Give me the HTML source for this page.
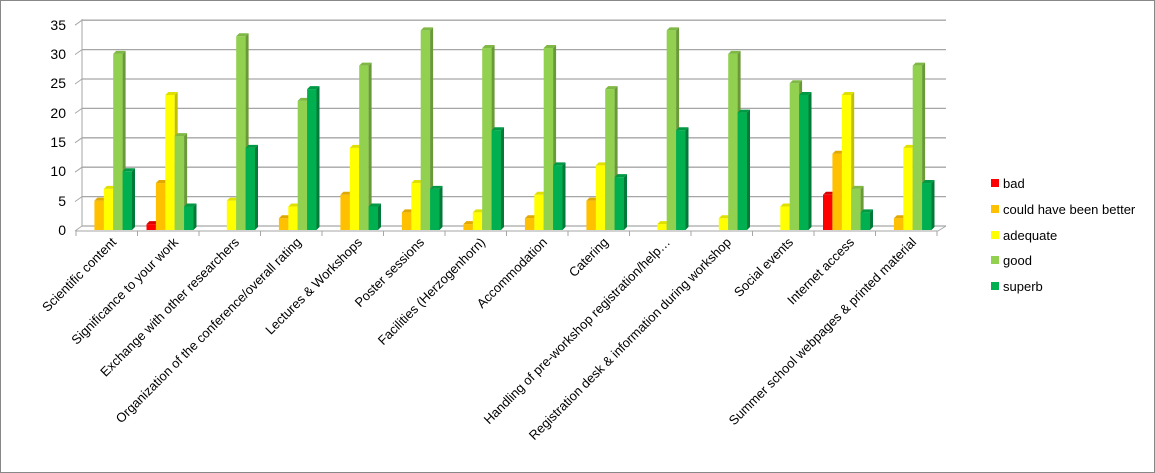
<!DOCTYPE html>
<html><head><meta charset="utf-8"><style>
html,body{margin:0;padding:0;background:#fff}
svg{display:block;font-family:"Liberation Sans",Arial,sans-serif}
</style></head><body>
<svg id="s" width="1155" height="473" viewBox="0 0 1155 473">
<rect x="0.5" y="0.5" width="1154" height="472" fill="#fff" stroke="#888"/>
<g id="grid"></g>
<g font-size="14" fill="#000" text-anchor="end">
<text x="66" y="235">0</text><text x="66" y="206">5</text><text x="66" y="176">10</text><text x="66" y="147">15</text><text x="66" y="118">20</text><text x="66" y="88">25</text><text x="66" y="59">30</text><text x="66" y="30">35</text>
</g>
<g id="bars"></g>
<g font-size="13" fill="#000" text-anchor="end">
<text transform="translate(117,243) rotate(-45)">Scientific content</text>
<text transform="translate(179,243) rotate(-45)">Significance to your work</text>
<text transform="translate(240,243) rotate(-45)">Exchange with other researchers</text>
<text transform="translate(302,243) rotate(-45)">Organization of the conference/overall rating</text>
<text transform="translate(363,243) rotate(-45)">Lectures &amp; Workshops</text>
<text transform="translate(425,243) rotate(-45)">Poster sessions</text>
<text transform="translate(486,243) rotate(-45)">Facilities (Herzogenhorn)</text>
<text transform="translate(548,243) rotate(-45)">Accommodation</text>
<text transform="translate(609,243) rotate(-45)">Catering</text>
<text transform="translate(671,243) rotate(-45)">Handling of pre-workshop registration/help…</text>
<text transform="translate(732,243) rotate(-45)">Registration desk &amp; information during workshop</text>
<text transform="translate(794,243) rotate(-45)">Social events</text>
<text transform="translate(855,243) rotate(-45)">Internet access</text>
<text transform="translate(917,243) rotate(-45)">Summer school webpages &amp; printed material</text>
</g>
<g font-size="13" fill="#000">
<rect x="991" y="179" width="8" height="8" fill="#ff0000"/><text x="1003" y="188">bad</text>
<rect x="991" y="205" width="8" height="8" fill="#ffc000"/><text x="1003" y="214">could have been better</text>
<rect x="991" y="231" width="8" height="8" fill="#ffff00"/><text x="1003" y="240">adequate</text>
<rect x="991" y="256" width="8" height="8" fill="#92d050"/><text x="1003" y="265">good</text>
<rect x="991" y="282" width="8" height="8" fill="#00b050"/><text x="1003" y="291">superb</text>
</g>
</svg>
<script>
var NS="http://www.w3.org/2000/svg";
function el(p,t,a){var e=document.createElementNS(NS,t);for(var k in a)e.setAttribute(k,a[k]);p.appendChild(e);return e;}
var g=document.getElementById('grid');
for(var i=0;i<=7;i++){var yb=226-i*29.4,yf=yb+4;
 el(g,'line',{x1:82,y1:yb,x2:946,y2:yb,stroke:'#a6a6a6','stroke-width':1.3});
 el(g,'line',{x1:75,y1:yf+1,x2:82,y2:yb,stroke:'#a6a6a6','stroke-width':1});}
el(g,'line',{x1:82,y1:19,x2:82,y2:226,stroke:'#a6a6a6'});
el(g,'line',{x1:76,y1:231,x2:938,y2:231,stroke:'#a6a6a6'});
el(g,'line',{x1:938,y1:231,x2:946,y2:226,stroke:'#a6a6a6'});
for(var i=0;i<=14;i++){var x=76+i*61.5;el(g,'line',{x1:x,y1:231,x2:x,y2:236,stroke:'#a6a6a6'});}
var data=[[0,5,7,30,10],[1,8,23,16,4],[0,0,5,33,14],[0,2,4,22,24],[0,6,14,28,4],[0,3,8,34,7],[0,1,3,31,17],[0,2,6,31,11],[0,5,11,24,9],[0,0,1,34,17],[0,0,2,30,20],[0,0,4,25,23],[6,13,23,7,3],[0,2,14,28,8]];
var fc=['#ff0000','#ffc000','#ffff00','#92d050','#00b050'],sc=['#b00000','#c09000','#c0c000','#6a9a38','#007a38'],tc=['#d80000','#e0a800','#e0e000','#7fb844','#009a44'];
var b=document.getElementById('bars');
data.forEach(function(d,c){d.forEach(function(v,k){if(!v)return;
 var x=76+c*61.5+9+k*9.4,w=9.4,h=v*5.87,y=230-h,dx=3,dy=3;
 el(b,'rect',{x:x,y:y,width:w,height:h,fill:fc[k]});
 el(b,'polygon',{points:(x+w)+','+y+' '+(x+w+dx)+','+(y-dy)+' '+(x+w+dx)+','+(230-dy)+' '+(x+w)+',230',fill:sc[k]});
 el(b,'polygon',{points:x+','+y+' '+(x+dx)+','+(y-dy)+' '+(x+w+dx)+','+(y-dy)+' '+(x+w)+','+y,fill:tc[k]});
});});
</script>
</body></html>
